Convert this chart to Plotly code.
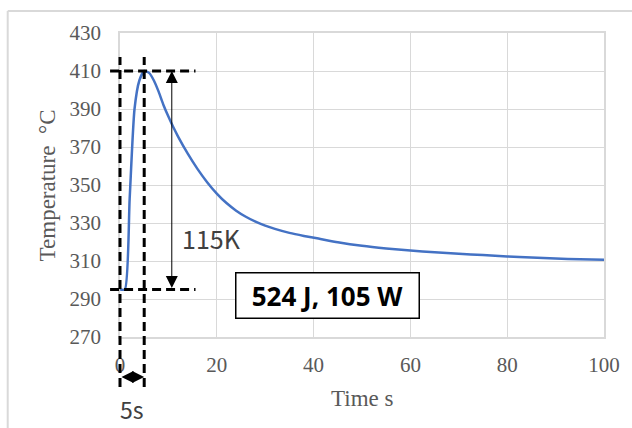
import plotly.graph_objects as go

# Temperature response of the sample after a 5 s heating pulse
time_s = [0, 1, 2, 3, 4, 5, 6, 7, 8, 9, 10, 11, 12, 14, 16, 18, 20, 22, 24, 26,
          28, 30, 32, 35, 38, 41, 45, 50, 55, 60, 65, 70, 75, 80, 85, 90, 95, 100]
temp_c = [295, 295, 343, 390, 405, 410, 409, 405, 399, 392, 386, 380.5, 375.5,
          366.5, 358.5, 351.5, 345.5, 340.5, 336.5, 333.3, 330.7, 328.6, 326.9,
          324.8, 323.2, 321.8, 319.9, 318.0, 316.6, 315.5, 314.6, 313.8, 313.1,
          312.4, 311.8, 311.3, 310.95, 310.7]

x_ticks = [0, 20, 40, 60, 80, 100]
y_ticks = [270, 290, 310, 330, 350, 370, 390, 410, 430]

# Markers of the pulse: start/end time and the start/peak temperatures
pulse_start, pulse_end = 0, 5
t_base, t_peak = 295, 410
rise_label = "115K"
pulse_label = "5s"
energy_label = "524 J, 105 W"

X_RANGE = [0, 100]
Y_RANGE = [270, 430]


def xp(v):
    """x data value -> paper fraction"""
    return (v - X_RANGE[0]) / (X_RANGE[1] - X_RANGE[0])


def yp(v):
    """y data value -> paper fraction"""
    return (v - Y_RANGE[0]) / (Y_RANGE[1] - Y_RANGE[0])


GRID = "#d9d9d9"
TXT = "#595959"
SERIF = "Liberation Serif, Times New Roman, serif"
SANS = "Noto Sans CJK JP, Noto Sans, sans-serif"

fig = go.Figure()
fig.add_trace(go.Scatter(
    x=time_s, y=temp_c, mode="lines",
    line=dict(color="#4472C4", width=2.5, shape="spline", smoothing=0.6),
    hoverinfo="skip", showlegend=False,
))

dash = dict(color="black", width=3, dash="9px,5px")
guide_lo, guide_hi = 243.7, 417.4   # vertical extent of the time guides
guide_left, guide_right = -2.05, 15.6  # horizontal extent of the temperature guides
shapes = [
    # vertical guides at pulse start / end
    dict(type="line", xref="paper", yref="paper", x0=xp(pulse_start), x1=xp(pulse_start),
         y0=yp(guide_lo), y1=yp(guide_hi), line=dash, layer="above"),
    dict(type="line", xref="paper", yref="paper", x0=xp(pulse_end), x1=xp(pulse_end),
         y0=yp(guide_lo), y1=yp(guide_hi), line=dash, layer="above"),
    # horizontal guides at base / peak temperature
    dict(type="line", xref="paper", yref="paper", x0=xp(guide_left), x1=xp(guide_right),
         y0=yp(t_peak), y1=yp(t_peak), line=dash, layer="above"),
    dict(type="line", xref="paper", yref="paper", x0=xp(guide_left), x1=xp(guide_right),
         y0=yp(t_base), y1=yp(t_base), line=dash, layer="above"),
    # outer chart frame
    dict(type="line", xref="paper", yref="paper", x0=xp(-23.2), x1=xp(-23.2),
         y0=yp(210), y1=yp(441.6), line=dict(color=GRID, width=2)),
    dict(type="line", xref="paper", yref="paper", x0=xp(-23.2), x1=xp(110),
         y0=yp(441.6), y1=yp(441.6), line=dict(color=GRID, width=2)),
]

arrow = dict(showarrow=True, arrowhead=2, arrowside="end+start", arrowsize=2.4,
             arrowwidth=1, arrowcolor="black", standoff=0, startstandoff=0, text="")
annotations = [
    # temperature rise arrow
    dict(x=10.7, y=t_peak, ax=10.7, ay=t_base, xref="x", yref="y",
         axref="x", ayref="y", **arrow),
    dict(x=18.9, y=322, xref="x", yref="y", text=rise_label, showarrow=False,
         xanchor="center", yanchor="middle",
         font=dict(family=SANS, size=25, color="#404040")),
    # pulse duration arrow
    dict(x=pulse_end, y=yp(249), ax=pulse_start, ay=0, xref="x", yref="paper",
         axref="x", ayref="pixel", **arrow),
    dict(x=2.5, y=yp(232.1), xref="x", yref="paper", text=pulse_label,
         xanchor="center", yanchor="middle",
         showarrow=False, font=dict(family=SANS, size=23, color="#404040")),
    # energy / power box
    dict(x=42.8, y=291.7, xref="x", yref="y", text="<b>" + energy_label + "</b>",
         xanchor="center", yanchor="middle",
         showarrow=False, font=dict(family="Noto Sans, sans-serif", size=26,
                                    color="black"),
         bordercolor="black", borderwidth=1.5, borderpad=1, width=180, height=42,
         bgcolor="white"),
    # axis titles
    dict(x=0.5, y=-0.2007, xref="paper", yref="paper", text="Time s",
         xanchor="center", yanchor="middle",
         showarrow=False, font=dict(family=SERIF, size=23, color=TXT)),
    dict(x=-0.15, y=0.5, xref="paper", yref="paper", text="Temperature  °C",
         xanchor="center", yanchor="middle",
         textangle=-90, showarrow=False,
         font=dict(family=SERIF, size=23, color=TXT)),
]

fig.update_layout(
    width=632, height=428, autosize=False,
    margin=dict(l=120, r=25, t=33, b=91),
    paper_bgcolor="white", plot_bgcolor="white",
    shapes=shapes, annotations=annotations,
    showlegend=False,
)
fig.update_xaxes(
    range=X_RANGE, tickvals=x_ticks, showgrid=True, gridcolor=GRID, gridwidth=1,
    zeroline=False, showline=True, linecolor=GRID, linewidth=1.5, mirror=True,
    ticks="outside", ticklen=8, tickcolor="rgba(0,0,0,0)",
    tickfont=dict(family=SERIF, size=21, color=TXT),
)
fig.update_yaxes(
    range=Y_RANGE, tickvals=y_ticks, showgrid=True, gridcolor=GRID, gridwidth=1,
    zeroline=False, showline=True, linecolor=GRID, linewidth=1.5, mirror=True,
    ticks="outside", ticklen=13, tickcolor="rgba(0,0,0,0)",
    tickfont=dict(family=SERIF, size=21, color=TXT),
)

fig.write_html("out.html")
